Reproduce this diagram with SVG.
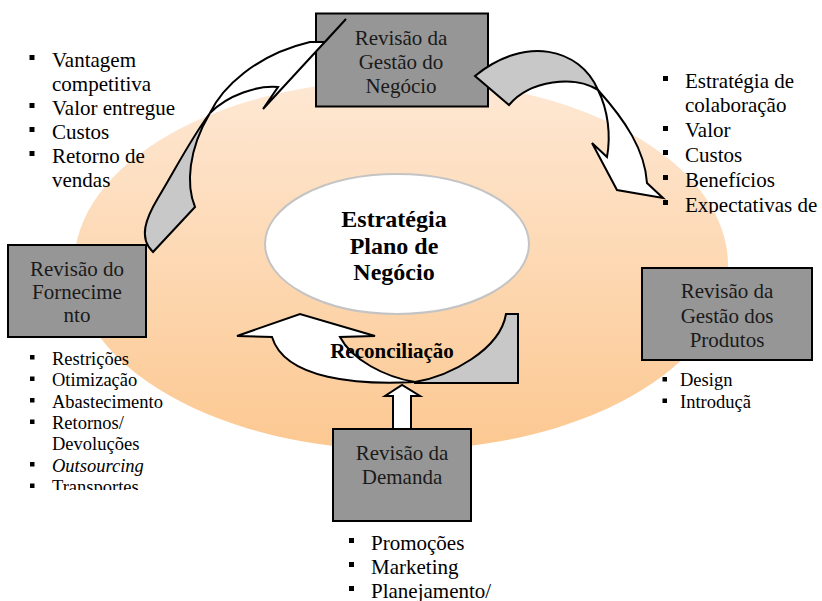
<svg xmlns="http://www.w3.org/2000/svg" width="822" height="601" viewBox="0 0 822 601">
<defs>
<linearGradient id="peach" x1="0" y1="0" x2="0" y2="1">
<stop offset="0" stop-color="#fee8d4"/>
<stop offset="1" stop-color="#fcc891"/>
</linearGradient>
<clipPath id="clipTR"><rect x="600" y="0" width="222" height="213.5"/></clipPath>
<clipPath id="clipBL"><rect x="0" y="340" width="250" height="150"/></clipPath>
</defs>
<style>
.box{fill:#969696;stroke:#000;stroke-width:2}
.bt{font-family:"Liberation Serif","Times New Roman",serif;font-size:21px;fill:#1a1a1a;text-anchor:middle}
.li{font-family:"Liberation Serif","Times New Roman",serif;font-size:21px;fill:#000}
.ls{font-family:"Liberation Serif","Times New Roman",serif;font-size:18.5px;fill:#000}
.bu{fill:#000}
.arw{fill:#fff;stroke:#000;stroke-width:2;stroke-linejoin:miter}
.arg{fill:#c8c8c8;stroke:#000;stroke-width:2}
.ct{font-family:"Liberation Serif","Times New Roman",serif;font-size:24px;font-weight:bold;fill:#000;text-anchor:middle}
.rc{font-family:"Liberation Serif","Times New Roman",serif;font-size:21px;font-weight:bold;fill:#000;text-anchor:middle}
</style>
<ellipse cx="401" cy="265" rx="327" ry="185" fill="url(#peach)"/>
<g id="estrategia">
<ellipse cx="397" cy="244" rx="132" ry="70" fill="#fff" stroke="#c4c4c4" stroke-width="2"/>
<text class="ct" x="394" y="227">Estratégia</text>
<text class="ct" x="394" y="254">Plano de</text>
<text class="ct" x="394" y="280">Negócio</text>
</g>
<g id="negocio">
<rect class="box" x="316" y="13.5" width="172" height="93"/>
<text class="bt" x="401" y="44.5">Revisão da</text>
<text class="bt" x="401" y="68.5">Gestão do</text>
<text class="bt" x="401" y="92.5">Negócio</text>
</g>
<g id="fornecimento">
<rect class="box" x="8" y="245" width="138" height="92"/>
<text class="bt" x="77" y="275.5">Revisão do</text>
<text class="bt" x="77" y="298.5">Fornecime</text>
<text class="bt" x="77" y="322">nto</text>
</g>
<g id="produtos">
<rect class="box" x="642" y="268" width="170" height="92"/>
<text class="bt" x="727" y="298">Revisão da</text>
<text class="bt" x="727" y="322.5">Gestão dos</text>
<text class="bt" x="727" y="346.5">Produtos</text>
</g>
<g id="demanda">
<rect class="box" x="333" y="429" width="138" height="92"/>
<text class="bt" x="402" y="459.5">Revisão da</text>
<text class="bt" x="402" y="484">Demanda</text>
</g>
<g id="connectors">
<path class="arg" d="M210,113 C190,140 175,170 158,198 C146,218 138,238 153,252 L195,207 C186,185 188,150 210,113 Z"/>
<path class="arw" d="M210,113 C222,88 255,55 310,42 L325,42 L346,19 L263,109 L278,87 C258,85 228,95 210,113 Z"/>
<path class="arg" d="M598,90 C580,48 525,35 475,76 L509,105 C530,80 575,75 598,90 Z"/>
<path class="arw" d="M598,90 C625,120 645,150 647,183 L663,198 L617,190 L592,143 L607,157 C611,135 608,110 598,90 Z"/>
<path class="arg" d="M415,382 C450,376 500,350 506,314 L518,314 L518,383 L415,383 Z"/>
<path class="arw" d="M415,382 C360,385 285,380 272,337 L237,336 L300,314 L375,336 L340,337 C352,360 385,377 415,382 Z"/>
<path class="arw" d="M393,429 L393,396 L385,396 L402,385 L420,396 L411,396 L411,429 Z"/>
<text class="rc" x="392" y="358">Reconciliação</text>
</g>
<g id="lista-negocio">
<rect class="bu" x="29.5" y="55" width="5" height="5"/>
<text class="li" x="52" y="66.5">Vantagem</text>
<text class="li" x="52" y="90.5">competitiva</text>
<rect class="bu" x="29.5" y="103" width="5" height="5"/>
<text class="li" x="52" y="114.5">Valor entregue</text>
<rect class="bu" x="29.5" y="127" width="5" height="5"/>
<text class="li" x="52" y="138.5">Custos</text>
<rect class="bu" x="29.5" y="151" width="5" height="5"/>
<text class="li" x="52" y="162.7">Retorno de</text>
<text class="li" x="52" y="187">vendas</text>
</g>
<g id="lista-colab" clip-path="url(#clipTR)">
<rect class="bu" x="663" y="76" width="5" height="5"/>
<text class="li" x="685" y="87.5">Estratégia de</text>
<text class="li" x="685" y="112">colaboração</text>
<rect class="bu" x="663" y="126" width="5" height="5"/>
<text class="li" x="685" y="137">Valor</text>
<rect class="bu" x="663" y="150" width="5" height="5"/>
<text class="li" x="685" y="161.5">Custos</text>
<rect class="bu" x="663" y="175" width="5" height="5"/>
<text class="li" x="685" y="186.5">Benefícios</text>
<rect class="bu" x="663" y="200" width="5" height="5"/>
<text class="li" x="685" y="211.5">Expectativas de</text>
</g>
<g id="lista-fornec" clip-path="url(#clipBL)">
<rect class="bu" x="30" y="355" width="4.5" height="4.5"/>
<text class="ls" x="52" y="364.5">Restrições</text>
<rect class="bu" x="30" y="376.5" width="4.5" height="4.5"/>
<text class="ls" x="52" y="386">Otimização</text>
<rect class="bu" x="30" y="398" width="4.5" height="4.5"/>
<text class="ls" x="52" y="407.5">Abastecimento</text>
<rect class="bu" x="30" y="419.5" width="4.5" height="4.5"/>
<text class="ls" x="52" y="429">Retornos/</text>
<text class="ls" x="52" y="450">Devoluções</text>
<rect class="bu" x="30" y="462" width="4.5" height="4.5"/>
<text class="ls" x="52" y="471.5" font-style="italic">Outsourcing</text>
<rect class="bu" x="30" y="483.5" width="4.5" height="4.5"/>
<text class="ls" x="52" y="493">Transportes</text>
</g>
<g id="lista-produtos">
<rect class="bu" x="662.5" y="377" width="4.5" height="4.5"/>
<text class="ls" x="680" y="386">Design</text>
<rect class="bu" x="662.5" y="398.5" width="4.5" height="4.5"/>
<text class="ls" x="680" y="407.5">Introduçã</text>
</g>
<g id="lista-demanda">
<rect class="bu" x="349" y="538" width="5" height="5"/>
<text class="li" x="371" y="549.5">Promoções</text>
<rect class="bu" x="349" y="562" width="5" height="5"/>
<text class="li" x="371" y="573.5">Marketing</text>
<rect class="bu" x="349" y="586" width="5" height="5"/>
<text class="li" x="371" y="597.5">Planejamento/</text>
</g>
</svg>
